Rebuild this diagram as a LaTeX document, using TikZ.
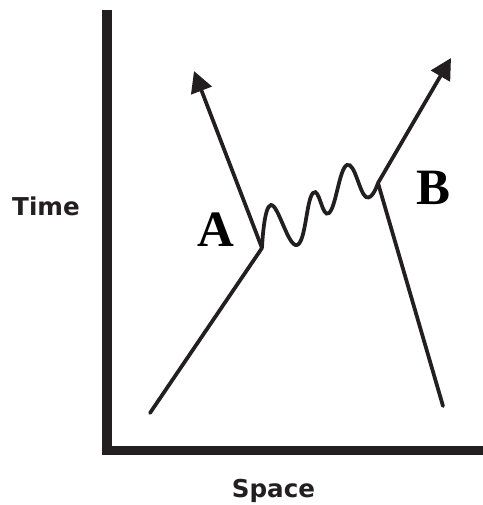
\documentclass[tikz,border=0pt]{standalone}
\usepackage{fontspec}
\newfontfamily\labelfont{Liberation Serif}
\newfontfamily\axisfont{DejaVu Sans}
\usetikzlibrary{arrows.meta}
\definecolor{ink}{RGB}{35,31,32}

\tikzset{
    axisline/.style={draw=ink, line width=0.2cm, line join=miter},
    worldline/.style={draw=ink, line width=0.075cm, line cap=round},
    photon/.style={draw=ink, line width=0.075cm},
    tipped/.style={-{Triangle[length=0.42cm, width=0.43cm]}},
    vertexlabel/.style={font=\labelfont\bfseries\fontsize{29}{29}\selectfont, text=black, anchor=base, inner sep=0pt},
    axislabel/.style={font=\axisfont\bfseries\fontsize{14}{14}\selectfont, text=ink, anchor=base, inner sep=0pt}
}

\begin{document}
\begin{tikzpicture}[x=0.02cm, y=0.02cm]
    \useasboundingbox (0,0) rectangle (483,505);

    % Axes
    \coordinate (ytop) at (107,495);
    \coordinate (origin) at (107,54.5);
    \coordinate (xend) at (483,54.5);
    \draw[axisline] (ytop) -- (origin) -- (xend);
    \node[axislabel] (timelabel) at (46,289.5) {Time};
    \node[axislabel] (spacelabel) at (273.5,8) {Space};

    % Vertices and free ends
    \coordinate (vA) at (262,257);
    \coordinate (vB) at (378,322);
    \coordinate (inA) at (150,92);
    \coordinate (inB) at (443,99);
    \coordinate (outA) at (194,434);
    \coordinate (outB) at (451,447);

    % Incoming particles
    \draw[worldline] (inA) -- (vA);
    \draw[worldline] (inB) -- (vB);

    % Outgoing particles
    \draw[worldline, tipped] (vA) -- (outA);
    \draw[worldline, tipped] (vB) -- (outB);

    % Exchanged photon
    \draw[photon] plot[smooth, tension=0.75] coordinates {(vA) (271,300) (297,260) (313,312) (329,292) (347,340) (366,308) (vB)};

    \node[vertexlabel] (labelA) at (216,258) {A};
    \node[vertexlabel] (labelB) at (433.5,300) {B};
\end{tikzpicture}
\end{document}
